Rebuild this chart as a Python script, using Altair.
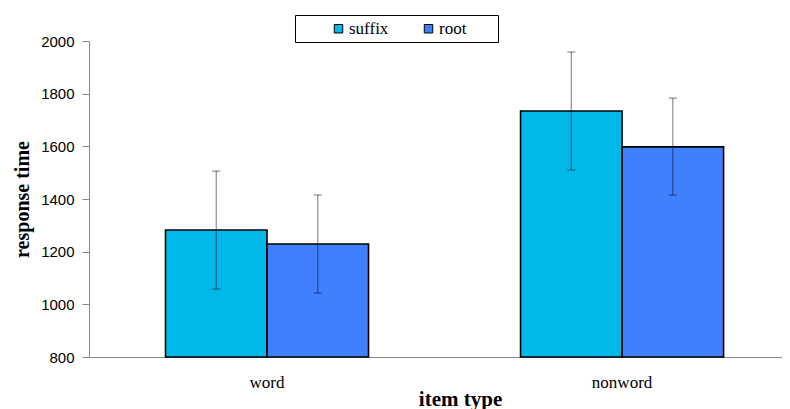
import altair as alt
import pandas as pd

categories = ["word", "nonword"]
series = ["suffix", "root"]
suffix_mean = [1282, 1734]
root_mean = [1229, 1598]
suffix_low = [1058, 1510]
suffix_high = [1506, 1958]
root_low = [1043, 1415]
root_high = [1415, 1783]
colors = ["#00B9E8", "#4080FF"]
y_ticks = [800, 1000, 1200, 1400, 1600, 1800, 2000]
y_base = 800

rows = []
for i, c in enumerate(categories):
    rows.append({"type": c, "group": "suffix", "rt": suffix_mean[i], "lo": suffix_low[i], "hi": suffix_high[i]})
    rows.append({"type": c, "group": "root", "rt": root_mean[i], "lo": root_low[i], "hi": root_high[i]})
df = pd.DataFrame(rows)

xscale = alt.Scale(domain=categories, paddingInner=0.4282, paddingOuter=0.19, align=0.567)
xoff = alt.XOffset("group:N", sort=series, scale=alt.Scale(domain=series, paddingInner=0, paddingOuter=0))
yscale = alt.Scale(domain=[800, 2000], zero=False, nice=False)

x_enc = alt.X(
    "type:N", sort=categories, scale=xscale,
    axis=alt.Axis(
        title="item type", labelAngle=0, ticks=False,
        domainColor="#888888", labelPadding=17,
        labelFont="Liberation Serif", labelFontSize=17, labelColor="black",
        titleFont="Liberation Serif", titleFontSize=21, titleFontWeight="bold",
        titleColor="black", titleX=371, titlePadding=-2,
    ),
)

bars = alt.Chart(df).mark_bar(stroke="black", strokeWidth=1.6).encode(
    x=x_enc,
    xOffset=xoff,
    y=alt.Y(
        "rt:Q", scale=yscale,
        axis=alt.Axis(
            title="response time", values=y_ticks, format="d", grid=False, tickSize=7,
            tickColor="#888888", domainColor="#888888", labelPadding=8,
            labelFont="Liberation Sans", labelFontSize=15, labelColor="black",
            titleFont="Liberation Serif", titleFontSize=20, titleFontWeight="bold",
            titleColor="black", titleX=-67, titleY=158, titleBaseline="middle",
        ),
    ),
    y2=alt.datum(y_base),
    color=alt.Color(
        "group:N", sort=series, scale=alt.Scale(domain=series, range=colors),
        legend=alt.Legend(
            title="\u00a0", titleOrient="right", titlePadding=27, titleFontSize=10,
            orient="none", legendX=206, legendY=-26, direction="horizontal",
            strokeColor="black", fillColor="white", padding=5, symbolType="square",
            symbolSize=72, symbolStrokeColor="black", symbolStrokeWidth=1,
            labelFont="Liberation Serif", labelFontSize=17, labelColor="black",
            columnPadding=1, labelOffset=2, symbolOffset=30,
        ),
    ),
)

err_rule = alt.Chart(df).mark_rule(color="black", opacity=0.45, strokeWidth=1.2).encode(
    x=alt.X("type:N", sort=categories, scale=xscale),
    xOffset=xoff,
    y=alt.Y("lo:Q", scale=yscale),
    y2="hi:Q",
)
cap_lo = alt.Chart(df).mark_tick(color="black", opacity=0.45, size=8, thickness=1.2).encode(
    x=alt.X("type:N", sort=categories, scale=xscale),
    xOffset=xoff,
    y=alt.Y("lo:Q", scale=yscale),
)
cap_hi = alt.Chart(df).mark_tick(color="black", opacity=0.45, size=8, thickness=1.2).encode(
    x=alt.X("type:N", sort=categories, scale=xscale),
    xOffset=xoff,
    y=alt.Y("hi:Q", scale=yscale),
)

chart = alt.layer(bars, err_rule, cap_lo, cap_hi).properties(
    width=693, height=316,
    autosize=alt.AutoSizeParams(type="none"),
    padding={"left": 81, "top": 33, "right": 0, "bottom": 52},
).configure_view(stroke=None)

chart.save("out.html", embed_options={"renderer": "svg", "actions": False})
